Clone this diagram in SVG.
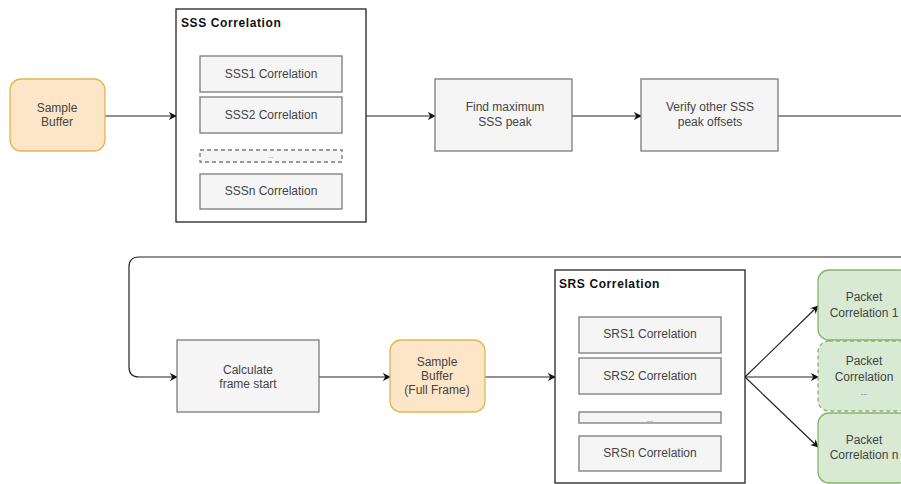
<svg xmlns="http://www.w3.org/2000/svg" width="901" height="484" viewBox="0 0 901 484">
<style>
text{font-family:"Liberation Sans",Arial,sans-serif;font-size:12px;fill:#444;text-anchor:middle;dominant-baseline:central}
.title{font-weight:bold;text-anchor:start;fill:#111;letter-spacing:0.6px}
.gray{fill:#f5f5f5;stroke:#7a7a7a;stroke-width:1.3}
.cont{fill:#fff;stroke:#222;stroke-width:1.3}
.orange{fill:#fde6c8;stroke:#e2b64c;stroke-width:1.3}
.green{fill:#d8ead3;stroke:#86b36a;stroke-width:1.3}
.conn{fill:none;stroke:#222;stroke-width:1.2}
</style>
<defs>
<marker id="arr" viewBox="0 0 10 10" refX="9" refY="5" markerWidth="8" markerHeight="8" markerUnits="userSpaceOnUse" orient="auto">
<path d="M0,0 L10,5 L0,10 L3,5 Z" fill="#111"/>
</marker>
</defs>
<rect width="901" height="484" fill="#fff"/>
<g id="connectors">
<path class="conn" d="M105,116 H176" marker-end="url(#arr)"/>
<path class="conn" d="M366,116 H435" marker-end="url(#arr)"/>
<path class="conn" d="M572,116 H641" marker-end="url(#arr)"/>
<path class="conn" d="M778,116 H901"/>
<path class="conn" d="M901,257 H139 Q129,257 129,267 V367 Q129,377 139,377 H177" marker-end="url(#arr)"/>
<path class="conn" d="M319,377 H390" marker-end="url(#arr)"/>
<path class="conn" d="M485,377 H555" marker-end="url(#arr)"/>
<path class="conn" d="M745,377 L818,306" marker-end="url(#arr)"/>
<path class="conn" d="M745,377 H818" marker-end="url(#arr)"/>
<path class="conn" d="M745,377 L818,447" marker-end="url(#arr)"/>
</g>
<g id="sample-buffer">
<rect class="orange" x="10" y="79" width="95" height="72" rx="11"/>
<text x="57" y="108">Sample</text>
<text x="57" y="122">Buffer</text>
</g>
<g id="sss-correlation">
<rect class="cont" x="176" y="9" width="190" height="213"/>
<text class="title" x="181" y="23">SSS Correlation</text>
</g>
<g id="sss1">
<rect class="gray" x="200" y="56" width="142" height="36"/>
<text x="271" y="74">SSS1 Correlation</text>
</g>
<g id="sss2">
<rect class="gray" x="200" y="97" width="142" height="36"/>
<text x="271" y="115">SSS2 Correlation</text>
</g>
<g id="sss-dots">
<rect class="gray" x="200" y="150" width="142" height="12" stroke-dasharray="4 3"/>
<text x="271" y="156" style="font-size:6px">...</text>
</g>
<g id="sssn">
<rect class="gray" x="200" y="174" width="142" height="35"/>
<text x="271" y="191">SSSn Correlation</text>
</g>
<g id="find-max">
<rect class="gray" x="435" y="79" width="137" height="72"/>
<text x="505" y="107">Find maximum</text>
<text x="505" y="122">SSS peak</text>
</g>
<g id="verify">
<rect class="gray" x="641" y="79" width="137" height="72"/>
<text x="710" y="107">Verify other SSS</text>
<text x="710" y="122">peak offsets</text>
</g>
<g id="calc-frame">
<rect class="gray" x="177" y="340" width="142" height="72"/>
<text x="248" y="370">Calculate</text>
<text x="248" y="384">frame start</text>
</g>
<g id="sample-buffer-full">
<rect class="orange" x="390" y="340" width="95" height="72" rx="11"/>
<text x="437" y="362">Sample</text>
<text x="437" y="376">Buffer</text>
<text x="437" y="390">(Full Frame)</text>
</g>
<g id="srs-correlation">
<rect class="cont" x="555" y="270" width="190" height="213"/>
<text class="title" x="559" y="284">SRS Correlation</text>
</g>
<g id="srs1">
<rect class="gray" x="579" y="317" width="142" height="36"/>
<text x="650" y="334">SRS1 Correlation</text>
</g>
<g id="srs2">
<rect class="gray" x="579" y="358" width="142" height="36"/>
<text x="650" y="376">SRS2 Correlation</text>
</g>
<g id="srs-dots">
<rect class="gray" x="579" y="412" width="142" height="11"/>
<text x="650" y="419" style="font-size:7px">...</text>
</g>
<g id="srsn">
<rect class="gray" x="579" y="436" width="142" height="35"/>
<text x="650" y="453">SRSn Correlation</text>
</g>
<g id="packet1">
<rect class="green" x="818" y="270" width="92" height="70" rx="11"/>
<text x="864" y="297">Packet</text>
<text x="864" y="313">Correlation 1</text>
</g>
<g id="packet-dots">
<rect class="green" x="818" y="341" width="92" height="70" rx="11" stroke-dasharray="4 3"/>
<text x="864" y="361">Packet</text>
<text x="864" y="377">Correlation</text>
<text x="864" y="392" style="font-size:8px">...</text>
</g>
<g id="packetn">
<rect class="green" x="818" y="413" width="92" height="70" rx="11"/>
<text x="864" y="440">Packet</text>
<text x="864" y="455">Correlation n</text>
</g>
</svg>
